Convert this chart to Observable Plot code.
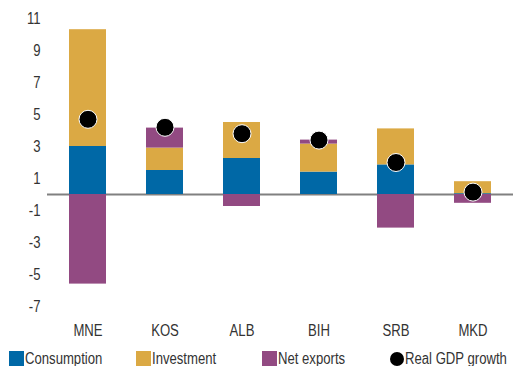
<!DOCTYPE html>
<html>
<head>
<meta charset="utf-8">
<script src="https://cdn.jsdelivr.net/npm/d3@7"></script>
<script src="https://cdn.jsdelivr.net/npm/@observablehq/plot@0.6"></script>
<style>
  body { margin: 0; background: #fff; font-family: "Liberation Sans", Arial, sans-serif; }
  #wrap { position: relative; width: 513px; height: 366px; }
  .item { position: absolute; top: 351px; height: 15px; display: flex; align-items: center; font-size: 16px; color: #333; white-space: nowrap; }
  .sw { width: 15px; height: 15px; margin-right: 1px; flex: none; }
  .dot { width: 14px; height: 14px; border-radius: 50%; background: #000; margin-right: 1px; flex: none; }
  .lbl { display: inline-block; transform: scaleX(0.82); transform-origin: left center; }
</style>
</head>
<body>
<div id="wrap"><div id="chart"></div></div>
<script>
const categories = ["MNE", "KOS", "ALB", "BIH", "SRB", "MKD"];
const components = ["Consumption", "Investment", "Net exports"];
const consumption = [3.0, 1.5, 2.25, 1.4, 1.85, 0.05];
const investment = [7.3, 1.4, 2.25, 1.75, 2.25, 0.75];
const netExports = [-5.6, 1.25, -0.75, 0.25, -2.1, -0.55];
const gdpGrowth = [4.7, 4.2, 3.8, 3.4, 2.0, 0.15];
const yTicks = [-7, -5, -3, -1, 1, 3, 5, 7, 9, 11];
const colors = ["#0068a6", "#dba944", "#924a82"];

const series = [consumption, investment, netExports];
const bars = [];
categories.forEach((c, i) => {
  components.forEach((k, j) => bars.push({country: c, component: k, value: series[j][i]}));
});
const dots = categories.map((c, i) => ({country: c, value: gdpGrowth[i]}));

const chart = Plot.plot({
  width: 513,
  height: 340,
  marginTop: 2,
  marginBottom: 18,
  marginLeft: 47,
  marginRight: 0,
  style: {fontFamily: '"Liberation Sans", Arial, sans-serif', fontSize: "16px", color: "#333", background: "#fff"},
  x: {domain: categories, paddingInner: 0.514, paddingOuter: 0.25, label: null},
  y: {domain: [-8, 12], label: null},
  color: {domain: components, range: colors},
  marks: [
    Plot.ruleY([0], {stroke: "#808080", strokeWidth: 2}),
    Plot.barY(bars, {x: "country", y: "value", fill: "component", order: components, inset: 0}),
    Plot.dot(dots, {x: "country", y: "value", r: 9, fill: "#000", stroke: "#fff", strokeWidth: 1}),
    Plot.axisY({ticks: yTicks, tickSize: 0, tickPadding: 7, label: null, fontSize: 16, tickFormat: d => String(d)}),
    Plot.axisX({tickSize: 0, tickPadding: 2, label: null, fontSize: 16})
  ]
});
document.getElementById("chart").appendChild(chart);
// narrow the text horizontally to match the condensed typeface of the reference
chart.querySelectorAll("text").forEach(t => {
  const len = t.getComputedTextLength();
  if (len > 0) {
    t.setAttribute("textLength", (len * 0.82).toFixed(2));
    t.setAttribute("lengthAdjust", "spacingAndGlyphs");
  }
});

const legendItems = [
  {label: components[0], color: colors[0], left: 9, type: "sw"},
  {label: components[1], color: colors[1], left: 136, type: "sw"},
  {label: components[2], color: colors[2], left: 262, type: "sw"},
  {label: "Real GDP growth", color: "#000", left: 390, type: "dot"}
];
const wrap = document.getElementById("wrap");
legendItems.forEach(d => {
  const it = document.createElement("div");
  it.className = "item";
  it.style.left = d.left + "px";
  const s = document.createElement("span");
  s.className = d.type;
  s.style.background = d.color;
  const t = document.createElement("span");
  t.className = "lbl";
  t.textContent = d.label;
  it.appendChild(s);
  it.appendChild(t);
  wrap.appendChild(it);
});
</script>
</body>
</html>
